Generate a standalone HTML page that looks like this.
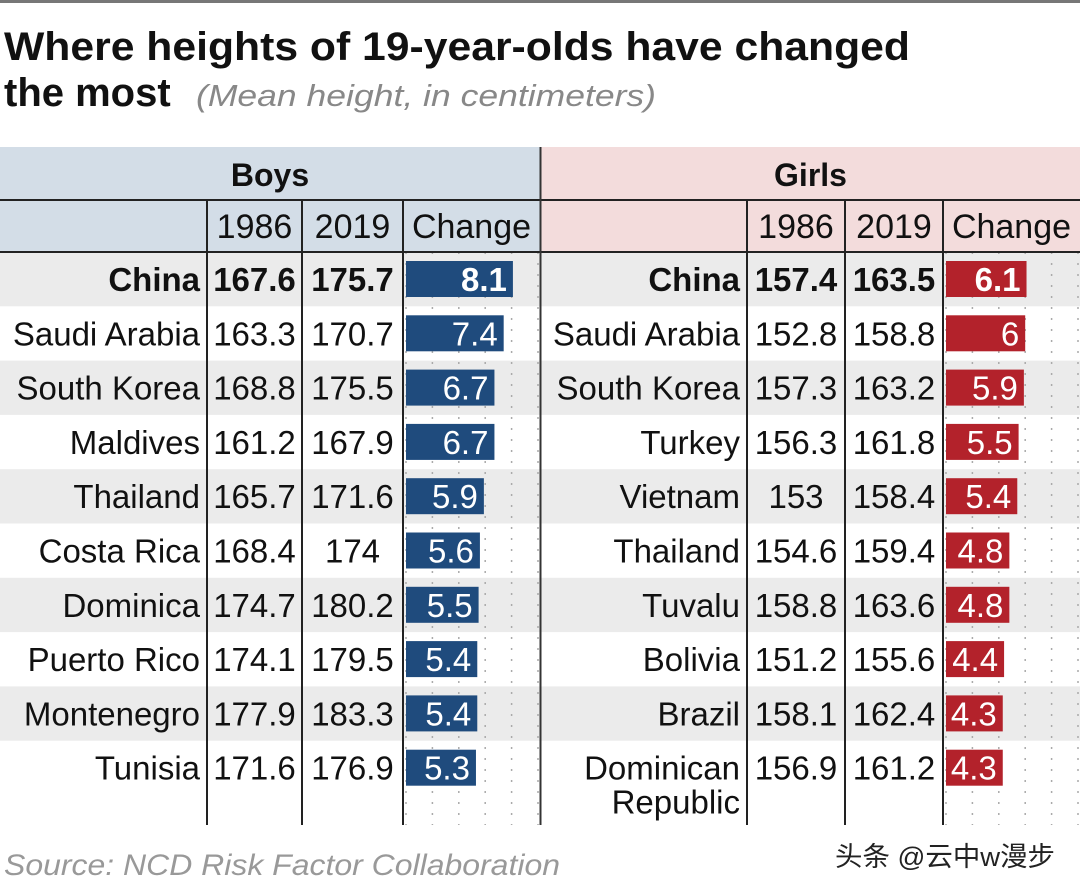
<!DOCTYPE html>
<html><head><meta charset="utf-8"><style>
body{margin:0;background:#fff;}
svg{display:block;font-family:"Liberation Sans","Noto Sans CJK SC",sans-serif;}
</style></head><body>
<svg id="chart" width="1080" height="892" viewBox="0 0 1080 892">
<rect x="0" y="0" width="1080" height="3" fill="#777"/>
<text x="4" y="60" font-size="40" font-weight="bold" fill="#111" textLength="906" lengthAdjust="spacingAndGlyphs">Where heights of 19-year-olds have changed</text>
<text x="4" y="106" font-size="40" font-weight="bold" fill="#111">the most</text>
<text x="196" y="106" font-size="31" font-style="italic" fill="#888" textLength="460" lengthAdjust="spacingAndGlyphs">(Mean height, in centimeters)</text>
<g id="table"></g>
<text x="4" y="875" font-size="30" font-style="italic" fill="#999" textLength="556" lengthAdjust="spacingAndGlyphs">Source: NCD Risk Factor Collaboration</text>
<text x="835" y="866" font-size="27" fill="#222" textLength="220" lengthAdjust="spacingAndGlyphs">头条 @云中w漫步</text>
</svg>
<script>
const boysCountries=["China","Saudi Arabia","South Korea","Maldives","Thailand","Costa Rica","Dominica","Puerto Rico","Montenegro","Tunisia"];
const boys1986=["167.6","163.3","168.8","161.2","165.7","168.4","174.7","174.1","177.9","171.6"];
const boys2019=["175.7","170.7","175.5","167.9","171.6","174","180.2","179.5","183.3","176.9"];
const boysChange=[8.1,7.4,6.7,6.7,5.9,5.6,5.5,5.4,5.4,5.3];
const girlsCountries=["China","Saudi Arabia","South Korea","Turkey","Vietnam","Thailand","Tuvalu","Bolivia","Brazil","Dominican|Republic"];
const girls1986=["157.4","152.8","157.3","156.3","153","154.6","158.8","151.2","158.1","156.9"];
const girls2019=["163.5","158.8","163.2","161.8","158.4","159.4","163.6","155.6","162.4","161.2"];
const girlsChange=[6.1,6,5.9,5.5,5.4,4.8,4.8,4.4,4.3,4.3];
const gridTicks=[0,2,4,6,8,10];

const NS="http://www.w3.org/2000/svg";
const g=document.getElementById('table');
function el(tag,attrs,parent){const e=document.createElementNS(NS,tag);for(const k in attrs)e.setAttribute(k,attrs[k]);(parent||g).appendChild(e);return e;}
const rowTop=252,rowH=54.3,headTop=147,subTop=200,bottom=825;
const rowY=i=>rowTop+i*rowH;
const scale=13.2;
const FS=33;

function panel(side,x0,x1,cCol,c86,c19,cChg,countries,v86,v19,chg,head,headBg,barCol){
  const xs=v=>cChg+3+v*scale;
  let r=el('rect',{x:x0,y:headTop,width:x1-x0,height:subTop-headTop,fill:headBg});
  
  
  r=el('rect',{x:x0,y:subTop,width:x1-x0,height:rowTop-subTop,fill:headBg});
  
  
  let t=el('text',{x:(x0+x1)/2,y:186,'font-size':32,'font-weight':'bold','text-anchor':'middle',fill:'#111'});
  t.textContent=head;
  
  
  [['1986',(cCol+c86)/2],['2019',(c86+c19)/2],['Change',(c19+x1)/2]].forEach(h=>{
    const tt=el('text',{x:h[1],y:238,'font-size':34,'text-anchor':'middle',fill:'#111'});
    tt.textContent=h[0];
    
    
  });
  for(let i=0;i<countries.length;i++){
    const y=rowY(i);
    if(i%2===0){const s=el('rect',{x:x0,y:y,width:x1-x0,height:rowH,fill:'#ebebeb'});
      
      }
  }
  gridTicks.forEach(v=>{
    const l=el('line',{x1:xs(v),x2:xs(v),y1:rowTop,y2:bottom,stroke:'#aaa','stroke-width':1.5,'stroke-dasharray':'2,9'});
    
    
  });
  for(let i=0;i<countries.length;i++){
    const y=rowY(i),base=y+39,bold=i===0?'bold':'normal';
    const parts=countries[i].split('|');
    parts.forEach((p,k)=>{
      const ct=el('text',{x:cCol-7,y:base+k*34,'font-size':FS,'text-anchor':'end','font-weight':bold,fill:'#111'});
      ct.textContent=p;
      
      
    });
    const a=el('text',{x:(cCol+c86)/2,y:base,'font-size':FS,'text-anchor':'middle','font-weight':bold,fill:'#111'});
    a.textContent=v86[i];
    
    
    const b=el('text',{x:(c86+c19)/2,y:base,'font-size':FS,'text-anchor':'middle','font-weight':bold,fill:'#111'});
    b.textContent=v19[i];
    
    
    const bar=el('rect',{x:xs(0),y:y+9,width:xs(chg[i])-xs(0),height:36,fill:barCol});
    
    
    const bt=el('text',{x:xs(chg[i])-6,y:base,'font-size':FS,'text-anchor':'end','font-weight':bold,fill:'#fff'});
    bt.textContent=String(chg[i]);
    
    
  }
  [[x0,subTop,x1,subTop],[x0,rowTop,x1,rowTop],[cCol,subTop,cCol,bottom],[c86,subTop,c86,bottom],[c19,subTop,c19,bottom]].forEach(c=>{
    const l=el('line',{x1:c[0],y1:c[1],x2:c[2],y2:c[3],stroke:'#222','stroke-width':2});
    
    
  });
}
panel('boys',0,540,207,302,403,403,boysCountries,boys1986,boys2019,boysChange,'Boys','#d3dde7','#1f4b7d');
panel('girls',541,1080,747,845,943,943,girlsCountries,girls1986,girls2019,girlsChange,'Girls','#f3dcdc','#b3222b');
const d=el('line',{x1:540.5,y1:headTop,x2:540.5,y2:bottom,stroke:'#333','stroke-width':2});


</script>
</body></html>
